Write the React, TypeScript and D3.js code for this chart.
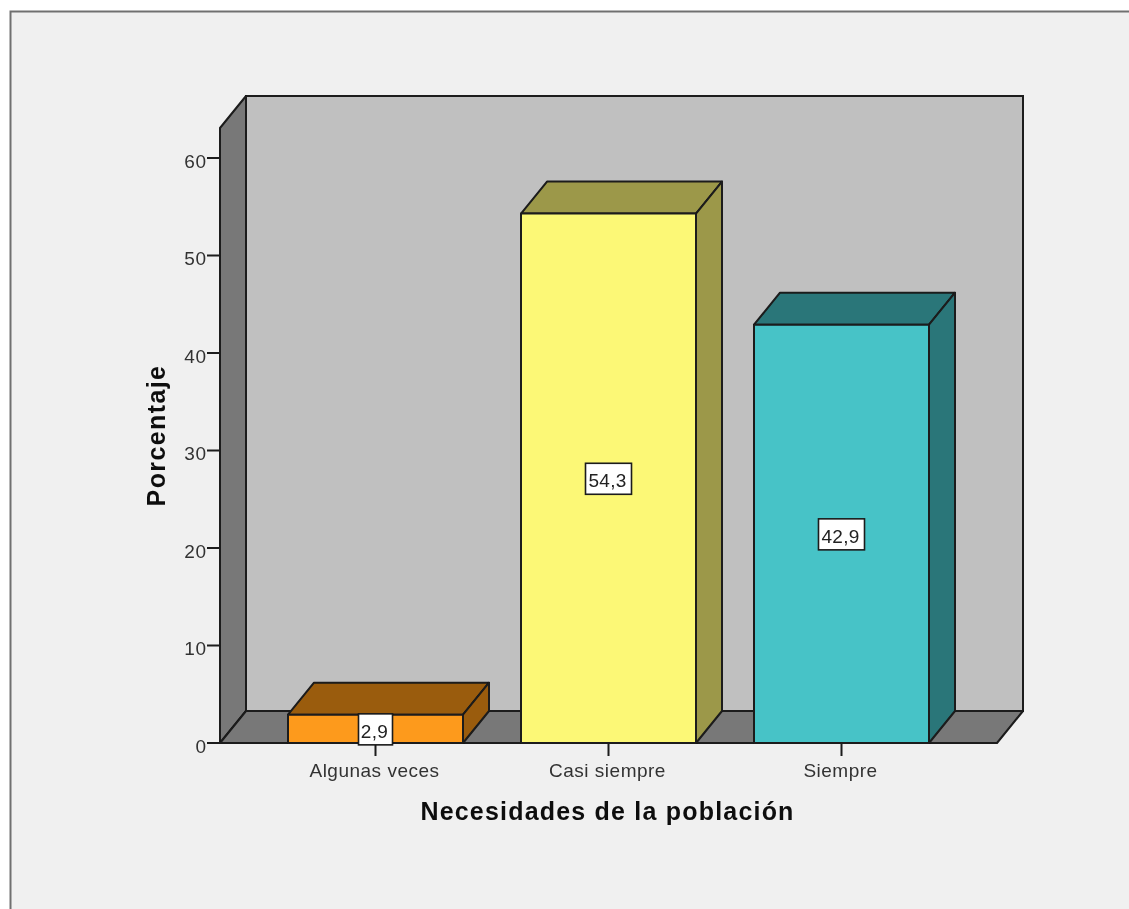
import React from "react";
import * as d3 from "d3";

const categories = ["Algunas veces", "Casi siempre", "Siempre"];
const values = [2.9, 54.3, 42.9];
const valueLabels = ["2,9", "54,3", "42,9"];
const yTicks = [0, 10, 20, 30, 40, 50, 60];
const frontColors = ["#fd9a1c", "#fcf876", "#47c3c7"];
const sideColors = ["#9a5c10", "#9c9848", "#2b7679"];
const yTitle = "Porcentaje";
const xTitle = "Necesidades de la población";

const W = 1129, H = 909;
const DX = 26, DY = -32;
const floorY = 743, plotLeft = 220, plotRight = 997, plotTopFront = 128;
const font = "'Liberation Sans', Arial, sans-serif";
const ink = "#1a1a1a";
const labelInk = "#333333";

const y = d3.scaleLinear().domain([0, 60]).range([floorY, 158]);
const x = d3.scaleBand<string>().domain(categories).range([259, 958])
  .paddingInner(58 / 233).paddingOuter(29 / 233);

const poly = (pts: [number, number][]) => (d3.line()(pts) as string) + "Z";

export default function App() {
  return (
    <svg width={W} height={H} viewBox={`0 0 ${W} ${H}`}
      style={{ position: "absolute", left: 0, top: 0, display: "block", background: "#fff" }}>
      <defs>
        <filter id="soft" x="-2%" y="-2%" width="104%" height="104%">
          <feGaussianBlur stdDeviation="0.5" />
        </filter>
      </defs>
      <g filter="url(#soft)">
        <rect x={10.5} y={11.5} width={W + 20} height={H + 20} fill="#f0f0f0" stroke="#707070" strokeWidth={2} />
        {/* back wall */}
        <path d={poly([[plotLeft + DX, plotTopFront + DY], [plotRight + DX, plotTopFront + DY], [plotRight + DX, floorY + DY], [plotLeft + DX, floorY + DY]])}
          fill="#c0c0c0" stroke={ink} strokeWidth={2} />
        {/* left wall */}
        <path d={poly([[plotLeft, plotTopFront], [plotLeft + DX, plotTopFront + DY], [plotLeft + DX, floorY + DY], [plotLeft, floorY]])}
          fill="#787878" stroke={ink} strokeWidth={2} strokeLinejoin="round" />
        {/* floor */}
        <path d={poly([[plotLeft, floorY], [plotLeft + DX, floorY + DY], [plotRight + DX, floorY + DY], [plotRight, floorY]])}
          fill="#787878" stroke={ink} strokeWidth={2} strokeLinejoin="round" />

        {/* y axis */}
        {yTicks.map((t) => (
          <g key={t}>
            <line x1={plotLeft - 13} x2={plotLeft} y1={y(t)} y2={y(t)} stroke={ink} strokeWidth={2} />
            <text x={plotLeft - 13.5} y={y(t) + 9.5} textAnchor="end" fontFamily={font} fontSize={19} letterSpacing={0.5} fill={labelInk}>{t}</text>
          </g>
        ))}
        <text transform="translate(165,435.5) rotate(-90)" textAnchor="middle" fontFamily={font} fontSize={25} fontWeight="bold" letterSpacing={1.4} fill="#111">{yTitle}</text>

        {/* x axis ticks and labels */}
        {categories.map((c) => {
          const cx = (x(c) as number) + x.bandwidth() / 2;
          return (
            <g key={c}>
              <line x1={cx} x2={cx} y1={floorY} y2={floorY + 13} stroke={ink} strokeWidth={2} />
              <text x={cx - 1} y={floorY + 34} textAnchor="middle" fontFamily={font} fontSize={19} letterSpacing={0.5} fill={labelInk}>{c}</text>
            </g>
          );
        })}
        <text x={607.5} y={820} textAnchor="middle" fontFamily={font} fontSize={25} fontWeight="bold" letterSpacing={1.2} fill="#111">{xTitle}</text>

        {/* bars */}
        {categories.map((c, i) => {
          const x0 = x(c) as number, x1 = x0 + x.bandwidth(), yt = y(values[i]);
          return (
            <g key={c} stroke={ink} strokeWidth={2} strokeLinejoin="round">
              <path d={poly([[x0, yt], [x0 + DX, yt + DY], [x1 + DX, yt + DY], [x1, yt]])} fill={sideColors[i]} />
              <path d={poly([[x1, yt], [x1 + DX, yt + DY], [x1 + DX, floorY + DY], [x1, floorY]])} fill={sideColors[i]} />
              <path d={poly([[x0, yt], [x1, yt], [x1, floorY], [x0, floorY]])} fill={frontColors[i]} />
            </g>
          );
        })}

        {/* value labels */}
        {categories.map((c, i) => {
          const cx = (x(c) as number) + x.bandwidth() / 2;
          const cy = (y(values[i]) + floorY) / 2 + 0.5;
          const w = i === 0 ? 34 : 46, h = 31;
          return (
            <g key={c}>
              <rect x={cx - w / 2} y={cy - h / 2} width={w} height={h} fill="#fff" stroke={ink} strokeWidth={1.6} />
              <text x={cx - 1} y={cy + 8.5} textAnchor="middle" fontFamily={font} fontSize={19} letterSpacing={0.3} fill="#222">{valueLabels[i]}</text>
            </g>
          );
        })}
      </g>
    </svg>
  );
}
